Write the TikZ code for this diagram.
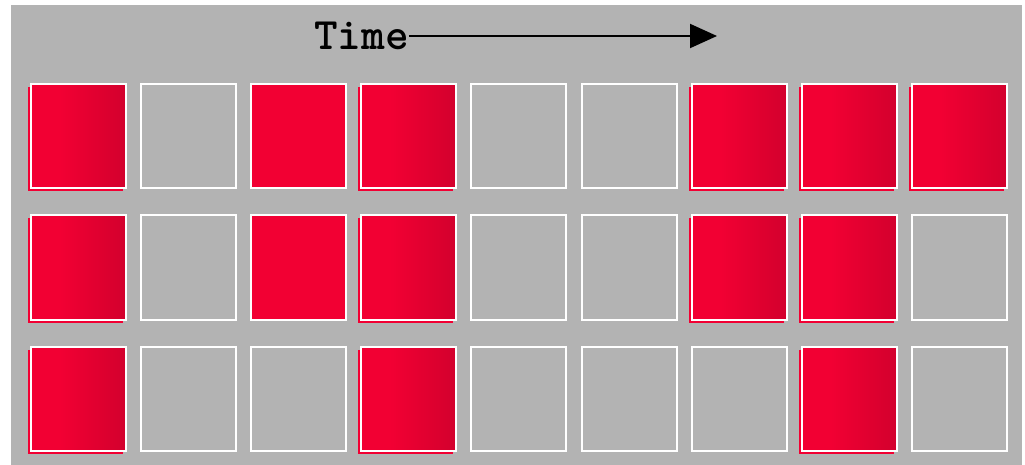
\documentclass[tikz,border=0pt]{standalone}
\usepackage{fontspec}
\usetikzlibrary{arrows.meta,shadows}
\definecolor{bggray}{HTML}{B3B3B3}
\definecolor{redA}{HTML}{F20033}
\definecolor{redB}{HTML}{D3002D}
\pgfdeclarehorizontalshading{redgrad}{100bp}{color(0bp)=(redA); color(40bp)=(redA); color(75bp)=(redB); color(100bp)=(redB)}
\tikzset{
  cell/.style={draw=white, line width=2pt, minimum width=95pt, minimum height=104pt, inner sep=0pt},
  offcell/.style={cell, fill=bggray},
  oncell/.style={cell, shading=redgrad, shading angle=0,
    general shadow={shadow xshift=-3pt, shadow yshift=-3pt, fill=redA, draw=none}},
  flatcell/.style={cell, fill=redA},
  timelabel/.style={font=\ttfamily\bfseries\fontsize{45}{47}\selectfont, inner sep=0pt, anchor=east},
  timearrow/.style={line width=2pt, -{Triangle[length=27pt,width=24pt]}}
}
\begin{document}
\begin{tikzpicture}[x=1pt,y=-1pt]
\useasboundingbox (0,0) rectangle (1025,465);
\fill[bggray] (11,5) rectangle (1022,465);
\node[timelabel] (time) at (409,36) {Time};
\coordinate (tend) at (717,36);
\draw[timearrow] (time.east) -- (tend);
% pattern: 0 off, 1 gradient red, 2 flat red
\foreach \row/\pattern [count=\r from 0] in {a/{1,0,2,1,0,0,1,1,1}, b/{1,0,2,1,0,0,1,1,0}, c/{1,0,0,1,0,0,0,1,0}} {
  \foreach \v [count=\c from 0] in \pattern {
    \pgfmathsetmacro{\cx}{78.5+110.1*\c}
    \pgfmathsetmacro{\cy}{136.5+131*\r}
    \ifcase\v
      \node[offcell] (\row\c) at (\cx,\cy) {};
    \or
      \node[oncell] (\row\c) at (\cx,\cy) {};
    \or
      \node[flatcell] (\row\c) at (\cx,\cy) {};
    \fi
  }
}
\end{tikzpicture}
\end{document}
